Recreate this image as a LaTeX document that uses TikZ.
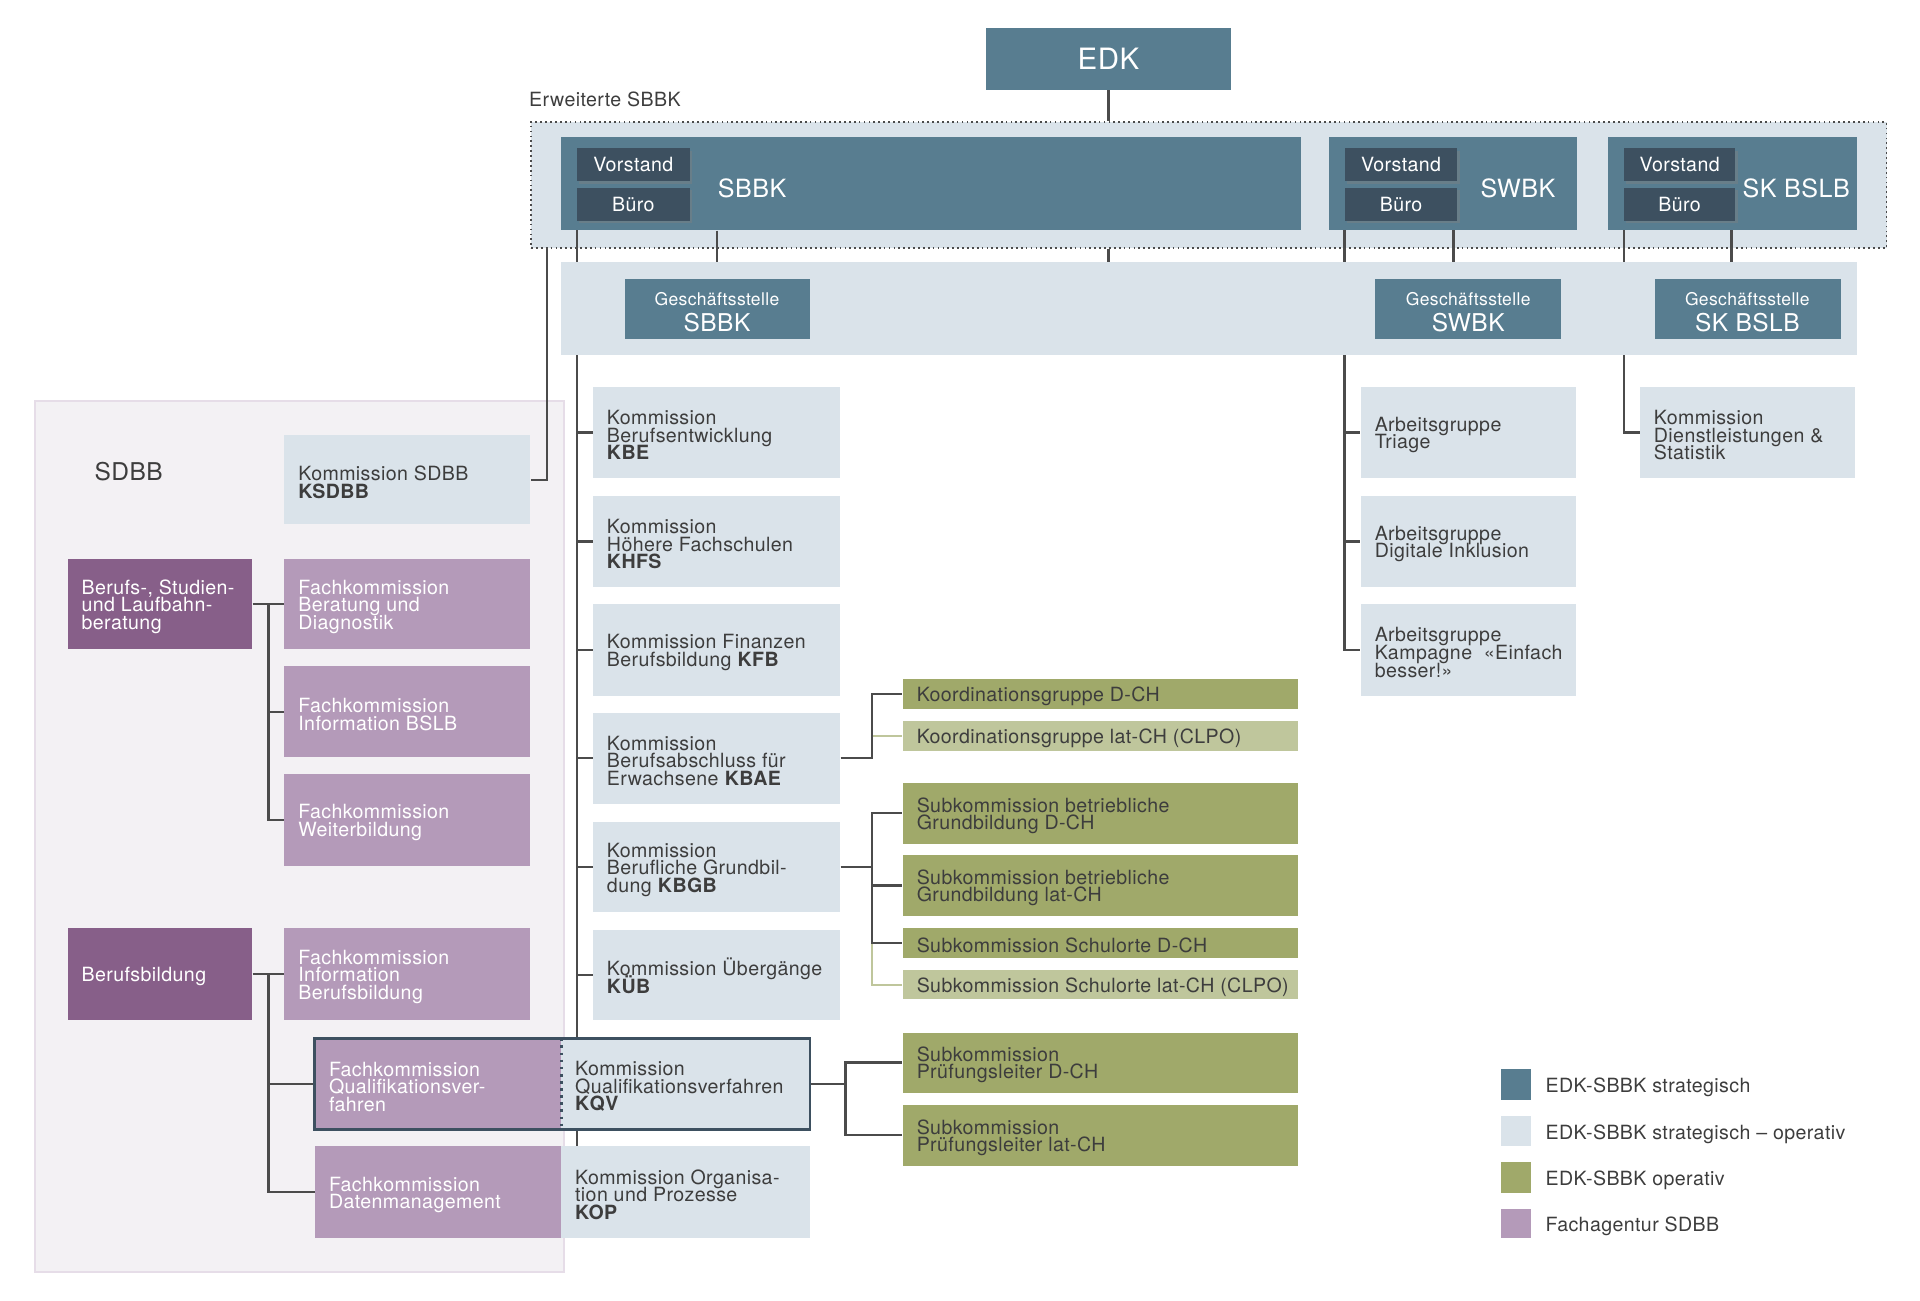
\documentclass[tikz,border=0pt]{standalone}
\usepackage{fontspec}
\setmainfont{TeX Gyre Heros}[LetterSpace=2.0]
\usetikzlibrary{calc,shadows}
\hyphenpenalty=10000
\exhyphenpenalty=10000
\lineskiplimit=-30pt
\newcommand\tightls{\lineskiplimit=-30pt\relax}
\definecolor{strat}{HTML}{587D90}
\definecolor{vdark}{HTML}{3D5060}
\definecolor{lightb}{HTML}{DAE3EA}
\definecolor{olive}{HTML}{A0A96A}
\definecolor{olivel}{HTML}{BFC69C}
\definecolor{purl}{HTML}{B49AB9}
\definecolor{purd}{HTML}{875F89}
\definecolor{panel}{HTML}{F3F1F4}
\definecolor{panelb}{HTML}{E6DDE8}
\definecolor{txt}{HTML}{3D3D3D}
\definecolor{lin}{HTML}{4B4B4B}
\pgfdeclarelayer{bg}
\pgfdeclarelayer{lines}
\pgfsetlayers{bg,lines,main}
% text box: name, x1, y1, x2, y2, style, text
\newcommand\ob[7]{%
  \pgfmathsetmacro\obw{#4-#2}\pgfmathsetmacro\obh{#5-#3}%
  \node[#6, anchor=north west, inner sep=0pt,
        minimum width=\obw pt, minimum height=\obh pt] (#1) at (#2,#3) {};
  \node[#6, fill=none, anchor=west, inner sep=0pt, align=left] (#1t) at ($(#1.west)+(11.5,0)$) {\rule{0pt}{16pt}#7};}
% centred box: name, x1, y1, x2, y2, style, text
\newcommand\cb[7]{%
  \pgfmathsetmacro\obw{#4-#2}\pgfmathsetmacro\obh{#5-#3}%
  \node[#6, anchor=north west, inner sep=0pt,
        minimum width=\obw pt, minimum height=\obh pt, align=center] (#1) at (#2,#3) {#7};}
\begin{document}
\begin{tikzpicture}[x=1pt,y=-1pt,
  base/.style={font=\fontsize{16}{14.3}\selectfont\tightls, text=txt},
  lb/.style={base, fill=lightb},
  gr/.style={base, fill=olive},
  grl/.style={base, fill=olivel},
  pu/.style={base, fill=purl, text=white},
  pud/.style={base, fill=purd, text=white},
  st/.style={fill=strat, text=white},
  vb/.style={fill=vdark, text=white, font=\fontsize{16}{16}\selectfont,
     drop shadow={opacity=0.4, shadow xshift=2pt, shadow yshift=-2pt}},
  biglbl/.style={text=white, font=\fontsize{20.5}{21}\selectfont, inner sep=0pt, anchor=west},
  gsa/.style={text=white, font=\fontsize{14.3}{14}\selectfont, inner sep=0pt},
  gsb/.style={text=white, font=\fontsize{20}{20}\selectfont, inner sep=0pt},
  conn/.style={draw=lin, line width=1.8pt},
  connl/.style={draw=olivel, line width=1.8pt},
  legtxt/.style={base, anchor=west, inner sep=0pt}
]
\useasboundingbox (0,0) rectangle (1568,1061.7);

\begin{pgfonlayer}{bg}
  \node[fill=lightb, draw=lin, line width=1.4pt, dash pattern=on 1.4pt off 2.6pt,
        anchor=north west, minimum width=1107pt, minimum height=103pt, inner sep=0pt] (ERW) at (433,99) {};
  \node[fill=panel, draw=panelb, line width=1.2pt,
        anchor=north west, minimum width=432pt, minimum height=711pt, inner sep=0pt] (SDBBP) at (28,327) {};
\end{pgfonlayer}

% labels
\node[base, anchor=west, inner sep=0pt] (erwlbl) at (432,81) {Erweiterte SBBK};
\node[text=txt, font=\fontsize{20}{20}\selectfont, anchor=west, inner sep=0pt] (sdbblbl) at (77,385) {SDBB};

% top level
\cb{EDK}{805}{23}{1005}{73}{st, font=\fontsize{24}{24}\selectfont}{EDK}
\cb{SBBK}{458}{112}{1062}{188}{st}{}
\cb{SWBK}{1085}{112}{1288}{188}{st}{}
\cb{SKB}{1313}{112}{1516}{188}{st}{}
\cb{V1}{471}{121}{563}{148}{vb}{Vorstand}
\cb{B1}{471}{153}{563}{180}{vb}{Büro}
\cb{V2}{1098}{121}{1190}{148}{vb}{Vorstand}
\cb{B2}{1098}{153}{1190}{180}{vb}{Büro}
\cb{V3}{1326}{121}{1417}{148}{vb}{Vorstand}
\cb{B3}{1326}{153}{1417}{180}{vb}{Büro}
\node[biglbl] (lSBBK) at (586,153.5) {SBBK};
\node[biglbl] (lSWBK) at (1209,153.5) {SWBK};
\node[biglbl] (lSKB) at (1423,153.5) {SK BSLB};

% Geschaeftsstellen
\cb{BAND}{458}{214}{1516}{290}{fill=lightb}{}
\cb{GS1}{510}{228}{661}{277}{st}{}
\cb{GS2}{1123}{228}{1275}{277}{st}{}
\cb{GS3}{1351}{228}{1503}{277}{st}{}
\node[gsa] (gs1a) at (585.5,244.5) {Geschäftsstelle};
\node[gsb] (gs1b) at (585.5,263.5) {SBBK};
\node[gsa] (gs2a) at (1199,244.5) {Geschäftsstelle};
\node[gsb] (gs2b) at (1199,263.5) {SWBK};
\node[gsa] (gs3a) at (1427,244.5) {Geschäftsstelle};
\node[gsb] (gs3b) at (1427,263.5) {SK BSLB};

% SDBB side
\ob{KSDBB}{232}{355}{433}{428}{lb}{Kommission SDBB\\\textbf{KSDBB}}
\ob{BSL}{55}{456}{206}{530}{pud}{Berufs-, Studien-\\und Laufbahn-\\beratung}
\ob{FKBD}{232}{456}{433}{530}{pu}{Fachkommission\\Beratung und\\Diagnostik}
\ob{FKIB}{232}{544}{433}{618}{pu}{Fachkommission\\Information BSLB}
\ob{FKWB}{232}{632}{433}{707}{pu}{Fachkommission\\Weiterbildung}
\ob{BB}{55}{758}{206}{833}{pud}{Berufsbildung}
\ob{FKIBB}{232}{758}{433}{833}{pu}{Fachkommission\\Information\\Berufsbildung}
\ob{FKQ}{257}{848}{458}{922}{pu}{Fachkommission\\Qualifikationsver-\\fahren}
\ob{FKDM}{257}{936}{458}{1011}{pu}{Fachkommission\\Datenmanagement}

% Kommissionen
\ob{KBE}{484}{316}{686}{390}{lb}{Kommission\\Berufsentwicklung\\\textbf{KBE}}
\ob{KHFS}{484}{405}{686}{479}{lb}{Kommission\\Höhere Fachschulen\\\textbf{KHFS}}
\ob{KFB}{484}{493}{686}{568}{lb}{Kommission Finanzen\\Berufsbildung \textbf{KFB}}
\ob{KBAE}{484}{582}{686}{656}{lb}{Kommission\\Berufsabschluss für\\Erwachsene \textbf{KBAE}}
\ob{KBGB}{484}{671}{686}{745}{lb}{Kommission\\Berufliche Grundbil-\\dung \textbf{KBGB}}
\ob{KUB}{484}{759}{686}{833}{lb}{Kommission Übergänge\\\textbf{KÜB}}
\ob{KQV}{458}{848}{661}{922}{lb}{Kommission\\Qualifikationsverfahren\\\textbf{KQV}}
\ob{KOP}{458}{936}{661}{1011}{lb}{Kommission Organisa-\\tion und Prozesse\\\textbf{KOP}}
\draw[draw=vdark, line width=2pt] (FKQ.north west) rectangle (KQV.south east);
\draw[draw=vdark, line width=2.2pt, dash pattern=on 2.2pt off 3.6pt] (FKQ.north east) -- (FKQ.south east);

% green
\ob{KG1}{737}{554}{1060}{579}{gr}{Koordinationsgruppe D-CH}
\ob{KG2}{737}{589}{1060}{613}{grl}{Koordinationsgruppe lat-CH (CLPO)}
\ob{SG1}{737}{639}{1060}{689}{gr}{Subkommission betriebliche\\Grundbildung D-CH}
\ob{SG2}{737}{698}{1060}{748}{gr}{Subkommission betriebliche\\Grundbildung lat-CH}
\ob{SG3}{737}{758}{1060}{782}{gr}{Subkommission Schulorte D-CH}
\ob{SG4}{737}{792}{1060}{816}{grl}{Subkommission Schulorte lat-CH (CLPO)}
\ob{PL1}{737}{843}{1060}{892}{gr}{Subkommission\\Prüfungsleiter D-CH}
\ob{PL2}{737}{902}{1060}{952}{gr}{Subkommission\\Prüfungsleiter lat-CH}

% right column
\ob{AG1}{1111}{316}{1287}{390}{lb}{Arbeitsgruppe\\Triage}
\ob{AG2}{1111}{405}{1287}{479}{lb}{Arbeitsgruppe\\Digitale Inklusion}
\ob{AG3}{1111}{493}{1287}{568}{lb}{Arbeitsgruppe\\Kampagne\ \ «Einfach\\besser!»}
\ob{KDS}{1339}{316}{1515}{390}{lb}{Kommission\\Dienstleistungen \&\\Statistik}

% legend
\cb{L1}{1226}{873}{1250}{898}{fill=strat}{}
\cb{L2}{1226}{911}{1250}{936}{fill=lightb}{}
\cb{L3}{1226}{949}{1250}{974}{fill=olive}{}
\cb{L4}{1226}{987}{1250}{1011}{fill=purl}{}
\node[legtxt] (t1) at (1262,888) {EDK-SBBK strategisch};
\node[legtxt] (t2) at (1262,926) {EDK-SBBK strategisch -- operativ};
\node[legtxt] (t3) at (1262,964) {EDK-SBBK operativ};
\node[legtxt] (t4) at (1262,1001.5) {Fachagentur SDBB};

% connectors
\begin{pgfonlayer}{lines}
  \draw[conn] (EDK.south) -- (EDK.south |- ERW.north);
  \draw[conn] (EDK.south |- ERW.south) -- (EDK.south |- BAND.north);
  % SBBK spine
  \coordinate (s1) at (471,188);
  \draw[conn] (s1) -- (s1 |- KOP.north);
  \foreach \k in {KBE,KHFS,KFB,KBAE,KBGB,KUB} \draw[conn] (s1 |- \k.west) -- (\k.west);
  \draw[conn] (GS1.north |- SBBK.south) -- (GS1.north);
  % SWBK
  \coordinate (s2) at (1098,188);
  \draw[conn] (s2) -- (s2 |- AG3.west) -- (AG3.west);
  \draw[conn] (s2 |- AG1.west) -- (AG1.west);
  \draw[conn] (s2 |- AG2.west) -- (AG2.west);
  \coordinate (g2) at (1187,188);
  \draw[conn] (g2) -- (g2 |- GS2.north);
  % SK BSLB
  \coordinate (s3) at (1326,188);
  \draw[conn] (s3) -- (s3 |- KDS.west) -- (KDS.west);
  \coordinate (g3) at (1414,188);
  \draw[conn] (g3) -- (g3 |- GS3.north);
  % KSDBB
  \coordinate (k0) at (447,202);
  \draw[conn] (k0) -- (k0 |- KSDBB.east) -- (KSDBB.east);
  % SDBB trees
  \coordinate (j1) at ($(BSL.east)!0.5!(FKBD.west)$);
  \draw[conn] (BSL.east) -- (FKBD.west);
  \draw[conn] (j1) |- (FKIB.west);
  \draw[conn] (j1) |- (FKWB.west);
  \coordinate (j2) at ($(BB.east)!0.5!(FKIBB.west)$);
  \draw[conn] (BB.east) -- (FKIBB.west);
  \draw[conn] (j2) |- (FKQ.west);
  \draw[conn] (j2) |- (FKDM.west);
  % KBAE
  \coordinate (j3) at ($(KBAE.east)+(26,0)$);
  \draw[connl] (j3 |- KG2.west) -- (KG2.west);
  \draw[conn] (KBAE.east) -- (j3) |- (KG1.west);
  % KBGB
  \coordinate (j4) at ($(KBGB.east)+(26,0)$);
  \draw[connl] (j4 |- SG3.west) |- (SG4.west);
  \draw[conn] (KBGB.east) -- (j4);
  \draw[conn] (j4) |- (SG1.west);
  \draw[conn] (j4) |- (SG3.west);
  \draw[conn] (j4 |- SG2.west) -- (SG2.west);
  % KQV
  \coordinate (j5) at ($(KQV.east)+(29,0)$);
  \draw[conn] (KQV.east) -- (j5);
  \draw[conn] (j5) |- (PL1.west);
  \draw[conn] (j5) |- (PL2.west);
\end{pgfonlayer}
\end{tikzpicture}
\end{document}
